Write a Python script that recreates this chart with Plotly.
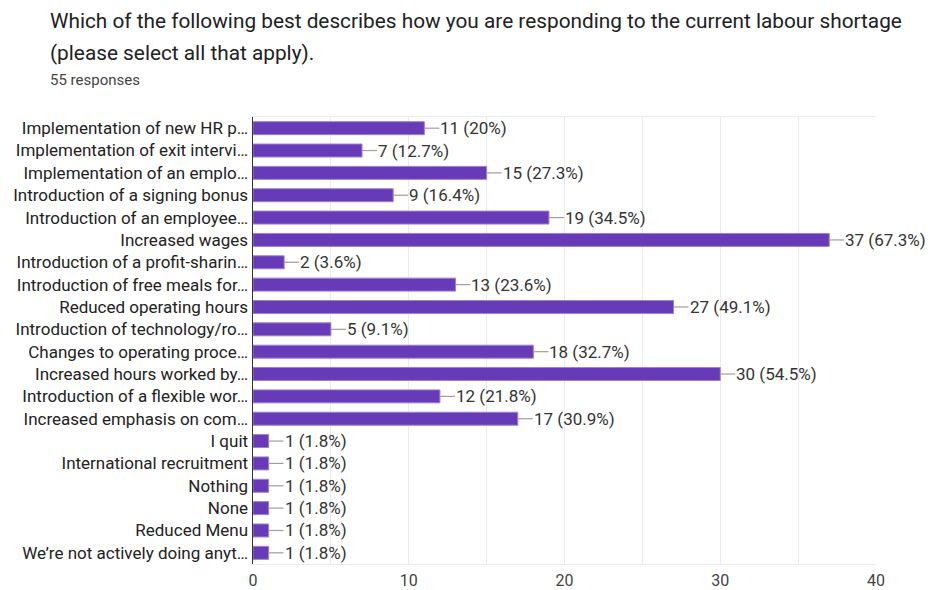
import plotly.graph_objects as go

categories = [
    "Implementation of new HR p…",
    "Implementation of exit intervi…",
    "Implementation of an emplo…",
    "Introduction of a signing bonus",
    "Introduction of an employee…",
    "Increased wages",
    "Introduction of a profit-sharin…",
    "Introduction of free meals for…",
    "Reduced operating hours",
    "Introduction of technology/ro…",
    "Changes to operating proce…",
    "Increased hours worked by…",
    "Introduction of a flexible wor…",
    "Increased emphasis on com…",
    "I quit",
    "International recruitment",
    "Nothing",
    "None",
    "Reduced Menu",
    "We’re not actively doing anyt…",
]
counts = [11, 7, 15, 9, 19, 37, 2, 13, 27, 5, 18, 30, 12, 17, 1, 1, 1, 1, 1, 1]
total_responses = 55
x_ticks = [0, 10, 20, 30, 40]

title_line1 = "Which of the following best describes how you are responding to the current labour shortage"
title_line2 = "(please select all that apply)."
subtitle = "55 responses"

def pct(v):
    s = f"{v / total_responses * 100:.1f}"
    if s.endswith(".0"):
        s = s[:-2]
    return s

labels = [f"{c} ({pct(c)}%)" for c in counts]
ypos = list(range(len(categories)))

FONT = "Roboto, Arial, sans-serif"

PLOT_L, PLOT_R, PLOT_T, PLOT_B = 252.5, 876, 117, 564
W, H = 930, 590
PW = PLOT_R - PLOT_L
PH = PLOT_B - PLOT_T

def px(pix):
    return (pix - PLOT_L) / PW

def py(pix):
    return (PLOT_B - pix) / PH

fig = go.Figure()
fig.add_trace(go.Bar(
    x=counts, y=ypos, orientation="h",
    marker=dict(color="#673ab7", line=dict(color="#9c80d0", width=1)),
    hoverinfo="skip",
))

for yi, c, lab in zip(ypos, counts, labels):
    fig.add_shape(type="line", xref="x", yref="y", xsizemode="pixel", xanchor=c,
                  x0=0, x1=15, y0=yi, y1=yi, line=dict(color="#9e9e9e", width=1.2))
    fig.add_annotation(x=c, y=yi, xref="x", yref="y", text=lab, showarrow=False,
                       xanchor="left", yanchor="middle", xshift=14,
                       font=dict(family=FONT, size=17, color="#333333"))

fig.add_annotation(xref="paper", yref="paper", x=px(47), y=py(21), text=title_line1,
                   showarrow=False, xanchor="left", yanchor="middle",
                   font=dict(family=FONT, size=20.8, color="#202124"))
fig.add_annotation(xref="paper", yref="paper", x=px(47), y=py(53), text=title_line2,
                   showarrow=False, xanchor="left", yanchor="middle",
                   font=dict(family=FONT, size=20.8, color="#202124"))
fig.add_annotation(xref="paper", yref="paper", x=px(47), y=py(80), text=subtitle,
                   showarrow=False, xanchor="left", yanchor="middle",
                   font=dict(family=FONT, size=15, color="#444444"))

fig.update_layout(
    width=W, height=H,
    margin=dict(l=PLOT_L, r=W - PLOT_R, t=PLOT_T, b=H - PLOT_B, pad=0),
    paper_bgcolor="white", plot_bgcolor="white",
    showlegend=False, bargap=0.42,
    font=dict(family=FONT, size=17, color="#222222"),
    xaxis=dict(range=[0, 40], tickvals=x_ticks, ticktext=[str(t) for t in x_ticks],
               showgrid=True, gridcolor="#ebebeb", gridwidth=1,
               minor=dict(dtick=5, showgrid=True, gridcolor="#ebebeb"),
               showline=True, mirror=True, linecolor="#ebebeb", linewidth=1,
               zeroline=False, ticks="outside", ticklen=2, tickcolor="rgba(0,0,0,0)",
               automargin=False,
               tickfont=dict(family=FONT, size=16, color="#444444"), fixedrange=True),
    yaxis=dict(range=[len(categories) - 0.5, -0.5], tickvals=ypos, ticktext=categories,
               showgrid=False, showline=True, linecolor="#333333", linewidth=1.5,
               zeroline=False, ticks="", automargin=False,
               tickfont=dict(family=FONT, size=17, color="#222222"), fixedrange=True),
)

fig.write_html("out.html",
               config={"displayModeBar": False, "staticPlot": True},
               post_script="document.body.style.margin='0px';document.documentElement.style.overflow='hidden';")
